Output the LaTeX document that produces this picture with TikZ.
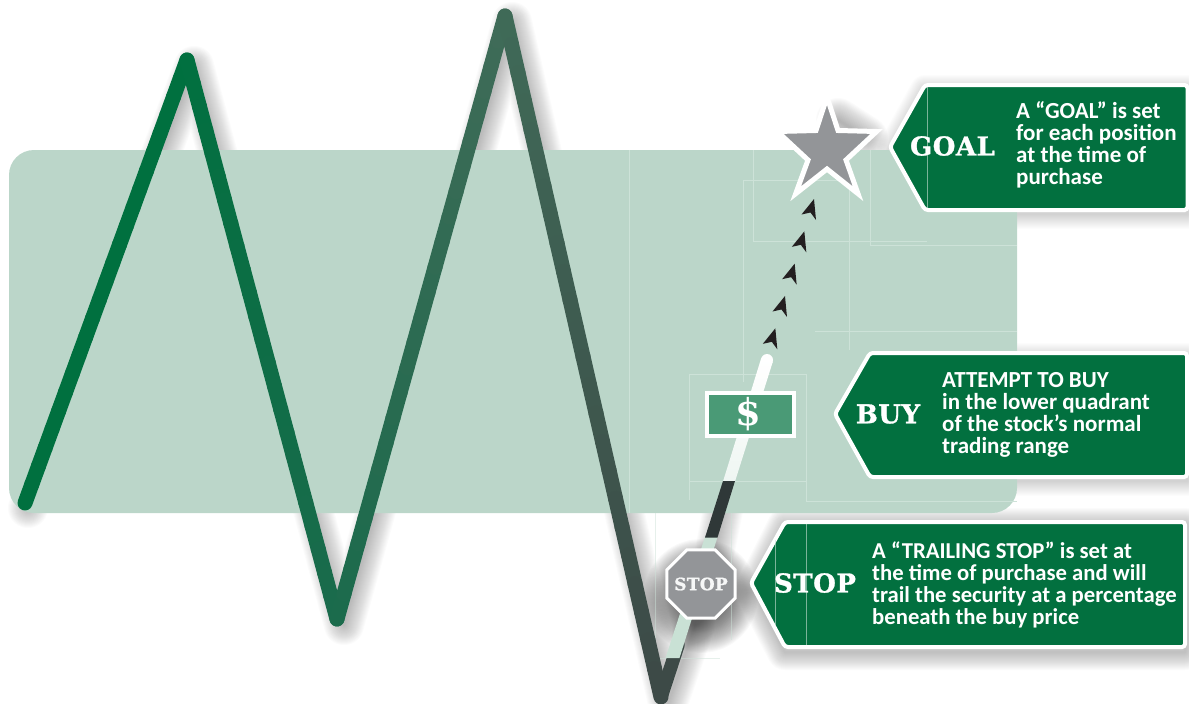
\documentclass[tikz,border=0pt]{standalone}
\usepackage{fontspec}
\setmainfont{Carlito}
\newfontfamily\slabfont{DejaVu Serif}[LetterSpace=2,BoldFeatures={FakeBold=1.2}]
\newfontfamily\dollarfont{DejaVu Serif}
\usetikzlibrary{shapes.geometric,calc}
\definecolor{bandc}{HTML}{BBD6C9}
\definecolor{seamc}{HTML}{CDE2D8}
\definecolor{calloutc}{HTML}{02703F}
\definecolor{zga}{HTML}{00703F}
\definecolor{zgb}{HTML}{1A6B4C}
\definecolor{zgc}{HTML}{3F6B58}
\definecolor{zgd}{HTML}{3D4A47}
\definecolor{starc}{HTML}{939598}
\definecolor{darkc}{HTML}{2F3838}
\definecolor{palec}{HTML}{C9E1D5}
\definecolor{billc}{HTML}{4A9A76}
\definecolor{headc}{HTML}{231F20}
\newcommand{\softshadow}[3][0.014]{%
  \foreach \w in {2,4,...,#2}{\draw[black,draw opacity=#1,line width=\w pt,line join=round,line cap=round] #3;}}
\newcommand{\gradseg}[6]{%
  \foreach \i in {1,...,24}{%
    \pgfmathtruncatemacro{\p}{100*\i/24}%
    \draw[line width=15pt,line cap=round,color=#6!\p!#5]
      ({#1+(#3-#1)*(\i-1)/24},{#2+(#4-#2)*(\i-1)/24}) -- ({#1+(#3-#1)*\i/24},{#2+(#4-#2)*\i/24});}}
\tikzset{
  callout/.style={draw=white,fill=calloutc,line width=4pt,rounded corners=3pt},
  head/.style={font=\slabfont\bfseries\fontsize{26}{26}\selectfont,text=white,inner sep=0pt},
  body/.style={font=\bfseries\fontsize{23}{22}\selectfont,text=white,inner sep=0pt,align=left,anchor=north west},
  seam/.style={draw=seamc,line width=0.8pt},
  arrowhd/.style={fill=headc,draw=none}
}
\begin{document}
\begin{tikzpicture}[x=1pt,y=-1pt]
\useasboundingbox (0,0) rectangle (1189,704);
% shadows (lie under the band)
\softshadow[0.022]{70}{(701,596) circle (22)}
\softshadow[0.014]{40}{(28,508) -- (194,66) -- (344,625) -- (512,22) -- (668,703) -- (695,625)}
\softshadow[0.016]{40}{(724,505) -- (714,555)}
\softshadow[0.012]{30}{(925,90) -- (1187,90) -- (1187,214) -- (925,214) -- (892,150) -- cycle}
\softshadow[0.012]{30}{(870,358) -- (1187,358) -- (1187,481) -- (870,481) -- (838,420) -- cycle}
\softshadow[0.014]{36}{(785,526) -- (1185,526) -- (1185,652) -- (785,652) -- (753,590) -- cycle}
\softshadow[0.014]{44}{(838,120) -- (866,138)}
% band
\fill[bandc,rounded corners=25pt] (9,150) rectangle (1017,513);
% seams
\draw[seam] (629,150) -- (629,513);
\draw[seam] (753,150) -- (753,241) -- (927,241);
\draw[seam] (743,382) -- (743,180) -- (849,180) -- (849,350);
\draw[seam] (870,150) -- (870,245) -- (1017,245);
\draw[seam] (815,331) -- (1017,331);
\draw[seam] (689,500) -- (689,374) -- (806,374) -- (806,501) -- (1017,501);
\draw[seam] (689,481) -- (806,481);
\draw[seam,opacity=.5] (655,513) -- (655,658) -- (720,658);
\draw[seam,opacity=.5] (731,513) -- (731,640);
% zigzag
\gradseg{25}{503}{187}{60}{zga}{zga}
\gradseg{187}{60}{337}{619}{zga}{zgb}
\gradseg{337}{619}{505}{16}{zgb}{zgc}
\gradseg{505}{16}{661}{697}{zgc}{zgd}
% trail
\draw[line width=13.5pt,zgd,line cap=round] (661,697) -- (678,645);
\fill[white] (767,360) circle (6);
\shade[top color=white,bottom color=white!70!palec]
  (761.2,358.2) -- (772.8,361.8) -- (735,481.5) -- (723,481.5) -- cycle;
\fill[palec] (679.5,658) -- (665.5,658) -- (705,537) -- (717.5,537) -- cycle;
\fill[darkc] (723,481) -- (735,481) -- (717.5,537.5) -- (705,537.5) -- cycle;
% five arrowheads
\foreach \k [evaluate=\k as \dx using {814-9.67*\k}, evaluate=\k as \dy using {199+32.33*\k}] in {0,...,4}{
  \coordinate (tip\k) at (\dx,\dy);
  \fill[arrowhd] (tip\k) -- ++(-12.5,15.5) -- ++(9,-2) -- ++(5.5,7.5) -- cycle;
}
% star
\draw[draw=white,fill=starc,line width=5pt,miter limit=10]
  (827,97) -- (838,130.5) -- (876.6,131.5) -- (846,160) -- (858,193.7) -- (827,169) -- (795.7,193.7) -- (808,160) -- (777.4,131.5) -- (816,130.5) -- cycle;
% stop sign and bill
\node[regular polygon,regular polygon sides=8,minimum size=74pt,inner sep=0pt,outer sep=0pt,draw=white,fill=starc,line width=3pt] (stopsign) at (701,584) {};
\node[font=\slabfont\bfseries\fontsize{17}{17}\selectfont,text=white!92!starc,inner sep=0pt] (stoplabel) at (701,584) {STOP};
\node[draw=white,fill=billc,line width=4pt,minimum width=87pt,minimum height=43pt,inner sep=0pt] (bill) at (750.5,414) {};
\node[font=\dollarfont\bfseries\fontsize{37}{37}\selectfont,text=white,inner sep=0pt] (dollar) at (748,414) {\$};
% callouts
\draw[callout] (890,147) -- (925,85) -- (1187.5,85) -- (1187.5,210) -- (925,210) -- cycle;
\draw[seam,opacity=.6] (927,87) -- (927,208);
\draw[callout] (835,414) -- (870,353) -- (1187,353) -- (1187,477) -- (870,477) -- cycle;
\draw[callout] (751,583) -- (785,522) -- (1185,522) -- (1185,647) -- (785,647) -- cycle;
\draw[seam,opacity=.6] (775,540) -- (775,625);
\draw[seam,opacity=.6] (806,524) -- (806,645);
\node[head] (goalh) at (952.5,146) {GOAL};
\node[head] (buyh) at (888,414) {BUY};
\node[head] (stoph) at (815,583) {STOP};
\node[body] (goalt) at (1016,101) {A “GOAL” is set\\for each position\\at the time of\\purchase};
\node[body] (buyt) at (942,372.5) {ATTEMPT TO BUY\\in the lower quadrant\\of the stock’s normal\\trading range};
\node[body,font=\bfseries\fontsize{22.7}{22}\selectfont] (stopt) at (872,542) {A “TRAILING STOP” is set at\\the time of purchase and will\\trail the security at a percentage\\beneath the buy price};
\end{tikzpicture}
\end{document}
